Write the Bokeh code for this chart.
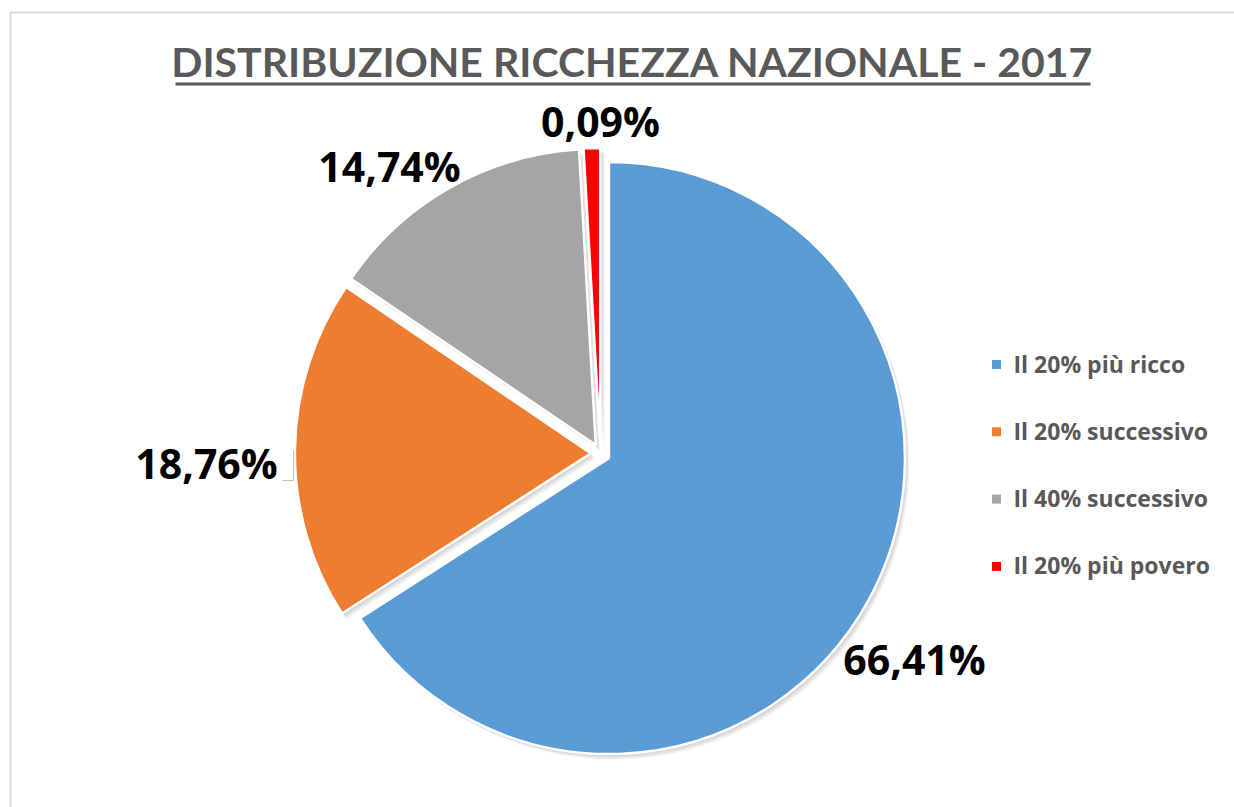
import math
from bokeh.plotting import figure
from bokeh.models import ColumnDataSource, Range1d
from bokeh.core.properties import value
from bokeh.embed import file_html
from bokeh.resources import INLINE

# ---------------- data ----------------
title_text = "DISTRIBUZIONE RICCHEZZA NAZIONALE - 2017"
categories = ["Il 20% più ricco", "Il 20% successivo", "Il 40% successivo", "Il 20% più povero"]
label_values = [66.41, 18.76, 14.74, 0.09]          # values printed on the chart
slice_shares = [65.9, 18.6, 14.6, 0.9]              # slice sizes as drawn in the picture
colors = ["#5B9BD5", "#ED7D31", "#A5A5A5", "#FF0000"]

# ---------------- layout ----------------
PAGE_W, PAGE_H = 1234, 807
W, H = 1234, 807


def Y(py):
    # convert a window pixel row to data y (data units == pixels)
    return PAGE_H - py


p = figure(width=W, height=H,
           x_range=Range1d(0, W),
           y_range=Range1d(PAGE_H - H, PAGE_H),
           output_backend="svg", toolbar_location=None, min_border=0,
           background_fill_color="white", border_fill_color="white")
p.axis.visible = False
p.grid.visible = False
p.outline_line_color = None

# chart-area border
p.line([10, 10, 1240], [Y(820), Y(12), Y(12)], line_color="#d9d9d9", line_width=2)

# ---------------- pie ----------------
cx, cy, R, explode = 600, Y(453), 296, 9.6
total = sum(slice_shares)
xs, ys, sa, ea = [], [], [], []
acc = 0.0
for s in slice_shares:
    t0 = acc / total * 2 * math.pi
    acc += s
    t1 = acc / total * 2 * math.pi
    m = (t0 + t1) / 2
    xs.append(cx + explode * math.sin(m))
    ys.append(cy + explode * math.cos(m))
    sa.append(math.pi / 2 - t1)
    ea.append(math.pi / 2 - t0)

src = ColumnDataSource(dict(x=xs, y=ys, start=sa, end=ea, color=colors, cat=categories))

# soft shadow
for k, a in [(1.5, 0.07), (3.0, 0.07), (4.5, 0.06)]:
    sh = ColumnDataSource(dict(x=[x + k for x in xs], y=[y - k * 1.2 for y in ys], start=sa, end=ea))
    p.wedge(x="x", y="y", radius=R, start_angle="start", end_angle="end", source=sh,
            fill_color="#000000", fill_alpha=a, line_color=None)

p.wedge(x="x", y="y", radius=R, start_angle="start", end_angle="end", source=src,
        fill_color="color", line_color="white", line_width=2.5)

# ---------------- data labels ----------------
label_texts = [f"{v:.2f}%".replace(".", ",") for v in label_values]
label_x = [914, 206, 389, 600]
label_base = [658, 462, 165, 120]
lsrc = ColumnDataSource(dict(x=label_x, y=[Y(b) for b in label_base], t=label_texts))
p.text(x="x", y="y", text="t", source=lsrc, text_font=value("Open Sans"), text_font_style="bold",
       text_font_size="41px", text_color="#000000", text_align="center", text_baseline="alphabetic")

# leader line for the orange label
p.line([282, 293, 293], [Y(480), Y(480), Y(450)], line_color="#bfbfbf", line_width=1)

# ---------------- title ----------------
p.text(x=[632], y=[Y(61)], text=[title_text], text_font=value("Lato"),
       text_font_style="bold", text_font_size="41px", text_color="#595959",
       text_align="center", text_baseline="alphabetic")
p.line([175, 1090], [Y(83.5), Y(83.5)], line_color="#595959", line_width=3)

# ---------------- legend ----------------
leg_y0, leg_dy = 364, 67.3
leg_y = [Y(leg_y0 + i * leg_dy) for i in range(len(categories))]
legsrc = ColumnDataSource(dict(x=[996] * len(categories), y=leg_y, c=colors,
                               tx=[1013] * len(categories), ty=[v + 1 for v in leg_y], t=categories))
p.scatter(x="x", y="y", marker="square", size=9, fill_color="c", line_color=None, source=legsrc)
p.text(x="tx", y="ty", text="t", source=legsrc, text_font=value("Open Sans"), text_font_style="bold",
       text_font_size="23px", text_color="#595959", text_align="left", text_baseline="alphabetic")

open("out.html", "w").write(file_html(p, INLINE))
